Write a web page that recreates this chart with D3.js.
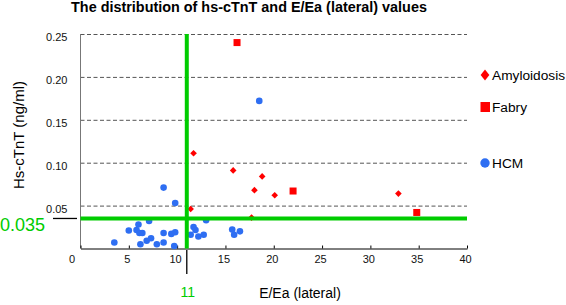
<!DOCTYPE html>
<html>
<head>
<meta charset="utf-8">
<script src="https://cdn.jsdelivr.net/npm/d3@7"></script>
<style>
  body { margin: 0; background: #fff; }
  svg { font-family: 'Liberation Sans', Arial, Helvetica, sans-serif; }
</style>
</head>
<body>
<div id="chart"></div>
<script>
// E/Ea (lateral) vs hs-cTnT (ng/ml)
const hcm = [
  [3.5, 0.007], [5.0, 0.021], [5.8, 0.0215], [6.0, 0.028], [6.1, 0.018],
  [6.4, 0.018], [6.2, 0.005], [6.85, 0.009], [7.3, 0.012], [7.1, 0.032],
  [7.9, 0.005], [8.6, 0.018], [8.6, 0.007], [8.6, 0.071], [9.4, 0.017],
  [9.8, 0.019], [9.7, 0.003], [9.8, 0.053], [11.4, 0.016], [11.7, 0.025],
  [11.9, 0.0215], [12.2, 0.014], [12.75, 0.016], [13.0, 0.033], [15.7, 0.022],
  [15.9, 0.016], [16.5, 0.020], [18.5, 0.172]
];
const amyloidosis = [
  [11.4, 0.046], [11.7, 0.111], [15.8, 0.091], [17.7, 0.036],
  [18.0, 0.068], [18.8, 0.084], [20.1, 0.062], [32.9, 0.064]
];
const fabry = [[16.2, 0.240], [22.0, 0.067], [34.8, 0.042]];

const xTicks = [0, 5, 10, 15, 20, 25, 30, 35, 40];
const yTicks = [0.05, 0.10, 0.15, 0.20, 0.25];
const cutX = 11;
const cutY = 0.035;

const width = 566;
const height = 305;
const blue = '#2e6ef2';
const red = '#ff0000';
const green = '#00cc00';

const svg = d3.select('#chart').append('svg')
  .attr('width', width)
  .attr('height', height);

const x = d3.scaleLinear().domain([0, 40]).range([80.5, 467]);
const y = d3.scaleLinear().domain([0, 0.25]).range([248.5, 34]);

// title
svg.append('text')
  .attr('x', 249)
  .attr('y', 12)
  .attr('text-anchor', 'middle')
  .style('font-size', '14.4px')
  .style('font-weight', 'bold')
  .text('The distribution of hs-cTnT and E/Ea (lateral) values');

// dashed gridlines + y labels
const yAxis = svg.append('g')
  .attr('transform', `translate(${x(0)},0)`)
  .call(d3.axisLeft(y)
    .tickValues(yTicks)
    .tickFormat(d3.format('.2f'))
    .tickSize(-(x(40) - x(0)))
    .tickPadding(13));
yAxis.select('.domain').remove();
yAxis.selectAll('.tick line')
  .attr('stroke', '#555')
  .attr('stroke-dasharray', '4,2.5');
yAxis.selectAll('.tick text')
  .attr('dy', '0.6em')
  .style('font-size', '11px')
  .attr('fill', '#111');

// y axis line
svg.append('line')
  .attr('x1', x(0)).attr('x2', x(0))
  .attr('y1', y(0.25)).attr('y2', y(0))
  .attr('stroke', '#777');

// x axis
const xAxis = svg.append('g')
  .attr('transform', `translate(0,${y(0)})`)
  .call(d3.axisBottom(x)
    .tickValues(xTicks)
    .tickSizeInner(-3)
    .tickSizeOuter(0)
    .tickPadding(7));
xAxis.select('.domain').attr('stroke', '#000');
xAxis.selectAll('.tick text')
  .attr('dx', d => d === 0 ? -9 : -2)
  .style('font-size', '11px')
  .attr('fill', '#111');

// points
svg.append('g').selectAll('circle')
  .data(hcm)
  .enter()
  .append('circle')
  .attr('cx', d => x(d[0]))
  .attr('cy', d => y(d[1]))
  .attr('r', 3.3)
  .attr('fill', blue);

const diamond = d3.symbol().type(d3.symbolDiamond2).size(28);
svg.append('g').selectAll('path')
  .data(amyloidosis)
  .enter()
  .append('path')
  .attr('d', diamond)
  .attr('transform', d => `translate(${x(d[0])},${y(d[1])})`)
  .attr('fill', red);

svg.append('g').selectAll('rect')
  .data(fabry)
  .enter()
  .append('rect')
  .attr('x', d => x(d[0]) - 3.5)
  .attr('y', d => y(d[1]) - 3.5)
  .attr('width', 7)
  .attr('height', 7)
  .attr('fill', red);

// cut-off lines
svg.append('line')
  .attr('x1', x(cutX)).attr('x2', x(cutX))
  .attr('y1', y(0.25)).attr('y2', y(0))
  .attr('stroke', green)
  .attr('stroke-width', 4);
svg.append('line')
  .attr('x1', x(0)).attr('x2', x(40))
  .attr('y1', y(cutY)).attr('y2', y(cutY))
  .attr('stroke', green)
  .attr('stroke-width', 4);

// black markers pointing at the cut-off labels
svg.append('line')
  .attr('x1', x(cutX)).attr('x2', x(cutX))
  .attr('y1', 250).attr('y2', 274)
  .attr('stroke', '#000')
  .attr('stroke-width', 1.3);
svg.append('line')
  .attr('x1', 53).attr('x2', 77)
  .attr('y1', y(cutY)).attr('y2', y(cutY))
  .attr('stroke', '#000')
  .attr('stroke-width', 1.3);

svg.append('text')
  .attr('x', x(cutX) + 1)
  .attr('y', 297)
  .attr('text-anchor', 'middle')
  .attr('fill', green)
  .style('font-size', '14px')
  .text(cutX);
svg.append('text')
  .attr('x', 45)
  .attr('y', 231)
  .attr('text-anchor', 'end')
  .attr('fill', green)
  .style('font-size', '18px')
  .text(cutY);

// axis titles
svg.append('text')
  .attr('x', 300)
  .attr('y', 298)
  .attr('text-anchor', 'middle')
  .style('font-size', '14px')
  .text('E/Ea (lateral)');
svg.append('text')
  .attr('transform', 'translate(24,135) rotate(-90)')
  .attr('text-anchor', 'middle')
  .style('font-size', '15px')
  .text('Hs-cTnT (ng/ml)');

// legend
const legend = svg.append('g');
legend.append('path')
  .attr('d', d3.symbol().type(d3.symbolDiamond2).size(60))
  .attr('transform', 'translate(485,75) scale(0.9,1.15)')
  .attr('fill', red);
legend.append('rect')
  .attr('x', 480.5).attr('y', 102)
  .attr('width', 9.5).attr('height', 10)
  .attr('fill', red);
legend.append('circle')
  .attr('cx', 485).attr('cy', 163)
  .attr('r', 4.7)
  .attr('fill', blue);
const legendLabels = [['Amyloidosis', 75], ['Fabry', 107], ['HCM', 163]];
legend.selectAll('text')
  .data(legendLabels)
  .enter()
  .append('text')
  .attr('x', 492)
  .attr('y', d => d[1])
  .attr('dy', '0.35em')
  .style('font-size', '13.7px')
  .text(d => d[0]);
</script>
</body>
</html>
